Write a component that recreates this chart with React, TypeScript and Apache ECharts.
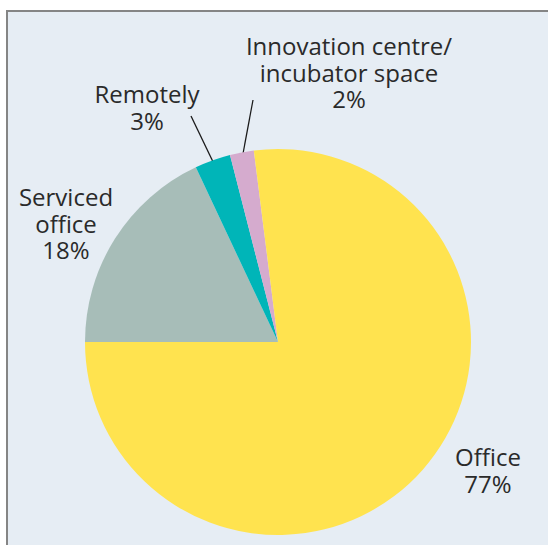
import React, { useEffect, useRef } from "react";
import * as echarts from "echarts";

const categories = ["Serviced\noffice", "Remotely", "Innovation centre/\nincubator space", "Office"];
const values = [18, 3, 2, 77];
const colors = ["#a7bdb8", "#00b5b8", "#d5abce", "#ffe34f"];

// label anchor positions (px) and leader lines
const labelPos: number[][] = [
  [66, 223],
  [147, 107],
  [349, 72],
  [488, 470],
];
const leaderLines: (number[][] | null)[] = [
  null,
  [[191, 116], [203, 141], [215, 166]],
  [[253, 100], [247.5, 129.5], [242, 159]],
  null,
];

export default function App() {
  const ref = useRef<HTMLDivElement>(null);
  useEffect(() => {
    document.body.style.margin = "0";
    if (!ref.current) return;
    const chart = echarts.init(ref.current, undefined, { renderer: "svg" });
    const font = "'Open Sans', sans-serif";
    chart.setOption({
      animation: false,
      backgroundColor: "#ffffff",
      graphic: [
        { type: "rect", z: -10, shape: { x: 6, y: 10, width: 560, height: 560 }, style: { fill: "#e6edf4" } },
        { type: "line", z: -5, shape: { x1: 6, y1: 11, x2: 560, y2: 11 }, style: { stroke: "#858585", lineWidth: 2 } },
        { type: "line", z: -5, shape: { x1: 7, y1: 10, x2: 7, y2: 560 }, style: { stroke: "#858585", lineWidth: 2 } },
      ],
      series: [
        {
          type: "pie",
          center: [278, 342],
          radius: 193,
          startAngle: 180,
          clockwise: true,
          avoidLabelOverlap: false,
          silent: true,
          emphasis: { disabled: true },
          itemStyle: { borderWidth: 0 },
          label: {
            show: true,
            position: "outside",
            formatter: (p: any) => `${p.name}\n${p.value}%`,
            fontFamily: font,
            fontSize: 24,
            lineHeight: 26.5,
            color: "#2a2a2a",
            align: "center",
            verticalAlign: "middle",
          },
          labelLine: { show: true, length: 10, length2: 10, smooth: false, lineStyle: { color: "#1a1a1a", width: 1.3 } },
          labelLayout: (params: any) => {
            const i = params.dataIndex;
            const res: any = {
              x: labelPos[i][0],
              y: labelPos[i][1],
              align: "center",
              verticalAlign: "middle",
            };
            if (leaderLines[i]) res.labelLinePoints = leaderLines[i];
            return res;
          },
          data: categories.map((name, i) => ({
            name,
            value: values[i],
            itemStyle: { color: colors[i] },
            labelLine: { show: leaderLines[i] !== null },
          })),
        },
      ],
    });
    return () => chart.dispose();
  }, []);
  return <div ref={ref} style={{ width: 548, height: 545 }} />;
}
